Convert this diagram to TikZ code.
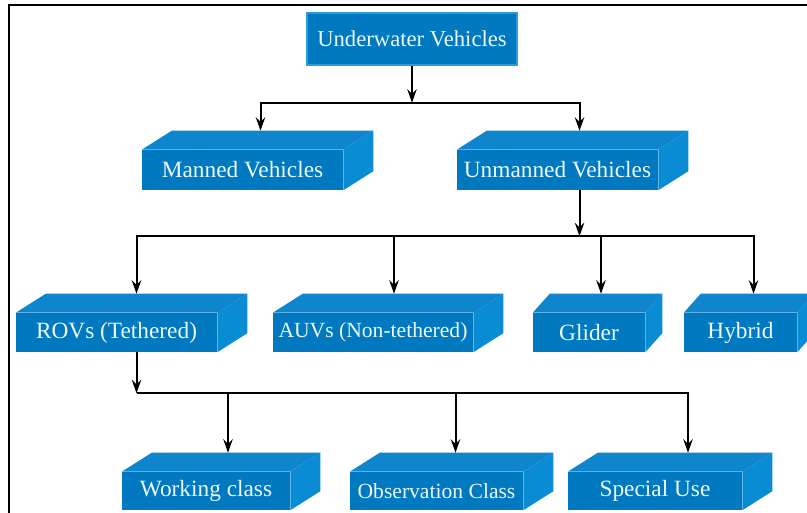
\documentclass[tikz,border=0pt]{standalone}
\usepackage{fontspec}
\setmainfont{Liberation Serif}
\usepackage{tikz}
\usetikzlibrary{arrows.meta}

\definecolor{slabfront}{RGB}{0,121,193}
\definecolor{slabtop}{RGB}{14,133,204}
\definecolor{slabside}{RGB}{10,140,212}
\definecolor{slabedge}{RGB}{45,155,218}
\definecolor{slabtext}{RGB}{236,248,252}
\newdimen\px \px=0.75pt

\begin{document}
\begin{tikzpicture}[x=\px, y=-\px,
    slab/.style={fill=slabfront, text=slabtext, inner sep=0pt, minimum height=39\px,
        font=\rmfamily\fontsize{17.5}{20}\selectfont},
    slab small/.style={slab, font=\rmfamily\fontsize{16.2}{20}\selectfont},
    link/.style={line width=1.5pt, -{Stealth[length=10pt, width=7pt]}}]
\useasboundingbox (0,0) rectangle (807,513);
% --- FRAME ---
\draw[line width=1.6pt] (9,520) -- (9,5) -- (815,5);

% --- ROOT ---
\node[slab, minimum width=210\px, minimum height=52\px, draw=slabedge, line width=1.5\px,
    font=\rmfamily\fontsize{17}{20}\selectfont] (uv) at (412,39) {Underwater Vehicles};

% --- BOXES ---
\node[slab, minimum width=201\px, minimum height=40\px] (manned) at (242.5,170) {Manned Vehicles};
\node[slab, minimum width=201\px, minimum height=40\px] (unmanned) at (557.5,170) {Unmanned Vehicles};
\node[slab, minimum width=201\px] (rov) at (116.5,332.5) {ROVs (Tethered)};
\node[slab small, minimum width=200\px] (auv) at (373,332.5) {AUVs (Non-tethered)};
\node[slab, minimum width=112\px] (glider) at (589,332.5) {Glider};
\node[slab, minimum width=113\px] (hybrid) at (740.5,332.5) {Hybrid};
\node[slab, minimum width=168\px, minimum height=38\px] (working) at (206,491) {Working class};
\node[slab small, minimum width=173\px, minimum height=38\px] (observ) at (436.5,491) {Observation Class};
\node[slab, minimum width=174\px, minimum height=38\px] (special) at (655,491) {Special Use};

% top and side faces, plus where the links meet each box
\foreach \n/\d/\o in {manned/30/18, unmanned/30/22, rov/30/20, auv/30/21, glider/17/12,
        hybrid/17/13, working/30/22, observ/30/19, special/30/33} {
    \fill[slabtop] (\n.north west) -- ++(\d,-19) -- ([shift={(\d,-19)}]\n.north east) -- (\n.north east) -- cycle;
    \fill[slabside] (\n.north east) -- ++(\d,-19) -- ([shift={(\d,-19)}]\n.south east) -- (\n.south east) -- cycle;
    \coordinate (\n-in) at ([shift={(\o,-19)}]\n.north);
    \coordinate (\n-out) at ([shift={(\o,0)}]\n.south);
}

% --- LINKS ---
\draw[link] (uv.south) -- ++(0,37) coordinate (bus1);
\draw[link] (bus1) -| (manned-in);
\draw[link] (bus1) -| (unmanned-in);

\draw[link] (unmanned-out) -- ++(0,46) coordinate (bus2);
\foreach \t in {rov, auv, glider, hybrid}
    \draw[link] (bus2) -| (\t-in);

\draw[link] (rov-out) -- ++(0,41) coordinate (bus3);
\foreach \t in {working, observ, special}
    \draw[link] (bus3) -| (\t-in);
\end{tikzpicture}
\end{document}
